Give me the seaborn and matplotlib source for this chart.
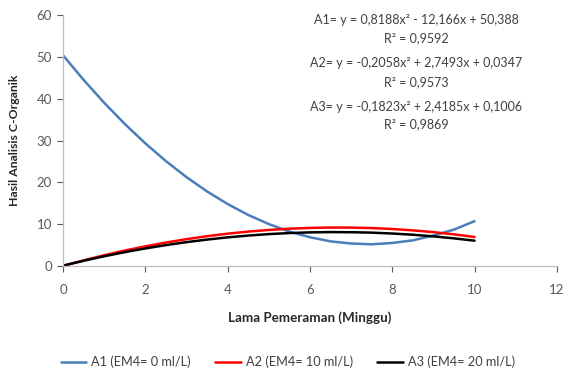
import matplotlib
matplotlib.use("Agg")
import matplotlib.pyplot as plt
import seaborn as sns
import pandas as pd
from matplotlib.lines import Line2D

weeks = [0, 0.5, 1, 1.5, 2, 2.5, 3, 3.5, 4, 4.5, 5, 5.5, 6, 6.5, 7, 7.5, 8, 8.5, 9, 9.5, 10]
a1 = [50.39, 44.51, 39.04, 33.98, 29.33, 25.09, 21.26, 17.84, 14.83, 12.22, 10.04,
      8.24, 6.89, 5.90, 5.39, 5.20, 5.52, 6.14, 7.30, 8.71, 10.73]
a2 = [0.03, 1.36, 2.58, 3.70, 4.71, 5.62, 6.43, 7.14, 7.74, 8.24, 8.63,
      8.93, 9.12, 9.21, 9.20, 9.08, 8.86, 8.53, 8.11, 7.58, 6.95]
a3 = [0.10, 1.26, 2.34, 3.32, 4.21, 5.01, 5.72, 6.33, 6.86, 7.29, 7.64,
      7.89, 8.05, 8.12, 8.09, 7.99, 7.78, 7.49, 7.10, 6.62, 6.07]
series_names = ["A1 (EM4= 0 ml/L)", "A2 (EM4= 10 ml/L)", "A3 (EM4= 20 ml/L)"]
series_colors = ["#4a7ebb", "#ff0000", "#000000"]
equation_lines = [
    "A1= y = 0,8188x\u00b2 - 12,166x + 50,388", "R\u00b2 = 0,9592",
    "A2= y = -0,2058x\u00b2 + 2,7493x + 0,0347", "R\u00b2 = 0,9573",
    "A3= y = -0,1823x\u00b2 + 2,4185x + 0,1006", "R\u00b2 = 0,9869",
]
x_ticks = [0, 2, 4, 6, 8, 10, 12]
y_ticks = [0, 10, 20, 30, 40, 50, 60]

rows = []
for name, vals in zip(series_names, [a1, a2, a3]):
    for w, v in zip(weeks, vals):
        rows.append({"Minggu": w, "Nilai": v, "Seri": name})
df = pd.DataFrame(rows)

sns.set_style("white")
plt.rcParams["font.family"] = ["Lato", "DejaVu Sans"]

fig = plt.figure(figsize=(5.63, 3.69), dpi=100)
ax = fig.add_axes([0.112, 0.279, 0.877, 0.680])

sns.lineplot(data=df, x="Minggu", y="Nilai", hue="Seri", hue_order=series_names,
             palette=series_colors, linewidth=1.8, ax=ax, legend=False)

ax.set_xlim(0, 12)
ax.set_ylim(0, 60)
ax.set_xticks(x_ticks)
ax.set_yticks(y_ticks)
ax.tick_params(axis="both", labelsize=9.5, colors="#595959", length=4, width=0.8,
               direction="out", bottom=True, left=True)
ax.tick_params(axis="x", pad=9)
ax.tick_params(axis="y", pad=4)
for lab in ax.get_xticklabels() + ax.get_yticklabels():
    lab.set_color("#595959")
for s in ["top", "right"]:
    ax.spines[s].set_visible(False)
for s in ["left", "bottom"]:
    ax.spines[s].set_color("#bfbfbf")
    ax.spines[s].set_linewidth(0.9)

ax.set_xlabel("Lama Pemeraman (Minggu)", fontsize=9.6, fontweight="bold", color="#262626", labelpad=11)
ax.set_ylabel("Hasil Analisis C-Organik", fontsize=8.8, fontweight="bold", color="#262626", labelpad=12)

eq_px_y = [20, 38, 63, 82, 107, 124]
for txt, py in zip(equation_lines, eq_px_y):
    fig.text(416 / 563, 1 - py / 369, txt, ha="center", va="center",
             fontsize=9, color="#404040")

handles = [Line2D([0], [0], color=c, lw=1.8) for c in series_colors]
fig.legend(handles, series_names, loc="center", bbox_to_anchor=(288 / 563, 1 - 362 / 369),
           ncol=3, frameon=False, fontsize=9.2, handlelength=2.0, columnspacing=1.9,
           handletextpad=0.4, labelcolor="#404040")

fig.savefig("out.png", dpi=100)
